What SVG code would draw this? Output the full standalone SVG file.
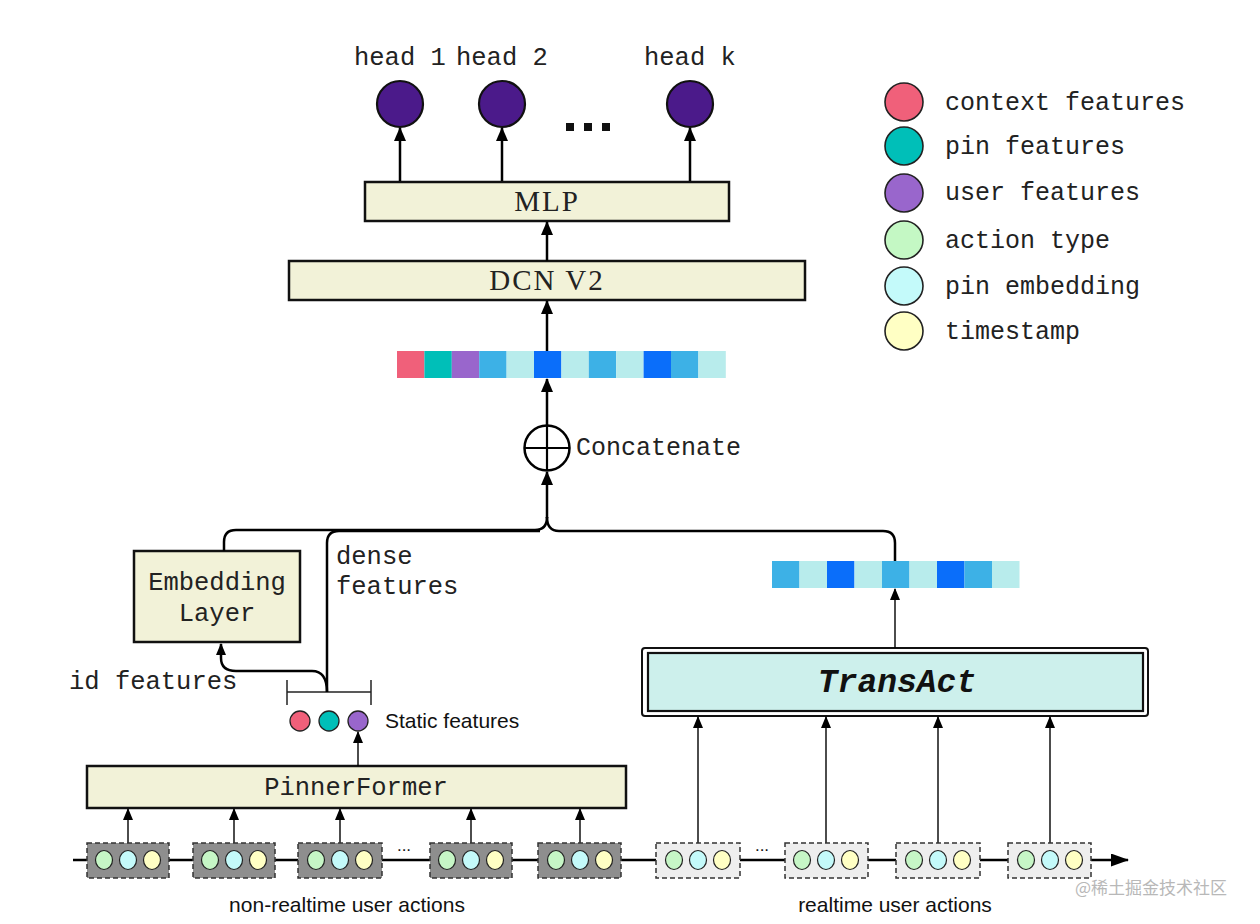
<svg xmlns="http://www.w3.org/2000/svg" width="1260" height="924" viewBox="0 0 1260 924">
<defs>
<marker id="ah" markerUnits="userSpaceOnUse" markerWidth="14" markerHeight="16" refX="13" refY="6" orient="auto"><path d="M0,0 L14,6 L0,12 Z" fill="#000"/></marker>
<marker id="ahs" markerUnits="userSpaceOnUse" markerWidth="12" markerHeight="12" refX="11" refY="5" orient="auto"><path d="M0,0 L12,5 L0,10 Z" fill="#000"/></marker>
<marker id="ahb" markerUnits="userSpaceOnUse" markerWidth="18" markerHeight="14" refX="17" refY="6.5" orient="auto"><path d="M0,0 L18,6.5 L0,13 Z" fill="#000"/></marker>
</defs>
<style>
.mono{font-family:"Liberation Mono","DejaVu Sans Mono",monospace;font-size:25.5px;fill:#222}
.lgt{font-family:"Liberation Mono","DejaVu Sans Mono",monospace;font-size:25px;fill:#222}
.serif{font-family:"Liberation Serif","DejaVu Serif",serif;font-size:29px;fill:#222;letter-spacing:2px}
.sans{font-family:"Liberation Sans",Arial,sans-serif;fill:#111}
.box{fill:#F2F2D8;stroke:#111;stroke-width:2.5}
.head{fill:#4B1A8A;stroke:#111;stroke-width:2.2}
.ln{fill:none;stroke:#000;stroke-width:2.5}
.thin{fill:none;stroke:#000;stroke-width:1.4}
.dk{fill:#8E8E8E;stroke:#333;stroke-width:1.5;stroke-dasharray:5 3}
.lt{fill:#EEEEEE;stroke:#333;stroke-width:1.5;stroke-dasharray:5 3}
.g{fill:#C6F6C6;stroke:#222;stroke-width:1.2}
.c{fill:#C4FAFA;stroke:#222;stroke-width:1.2}
.y{fill:#FFFFC4;stroke:#222;stroke-width:1.2}
.lg{stroke:#222;stroke-width:1.6}
</style>
<rect width="1260" height="924" fill="#fff"/>

<g id="heads">
<text class="mono" x="354" y="65">head 1</text>
<text class="mono" x="456" y="65">head 2</text>
<text class="mono" x="644" y="65">head k</text>
<circle class="head" cx="400" cy="104" r="23"/>
<circle class="head" cx="502" cy="104" r="23"/>
<circle class="head" cx="690" cy="104" r="23"/>
<rect x="566" y="123" width="8" height="8" fill="#111"/>
<rect x="584" y="123" width="8" height="8" fill="#111"/>
<rect x="602" y="123" width="8" height="8" fill="#111"/>
</g>

<g id="mlp"><rect class="box" x="365" y="182" width="364" height="39"/><text class="serif" x="547" y="211" text-anchor="middle">MLP</text></g>
<g id="dcn"><rect class="box" x="289" y="261" width="516" height="39"/><text class="serif" x="547" y="290" text-anchor="middle" letter-spacing="3">DCN V2</text></g>

<g id="bar1">
<rect x="397" y="351" width="27.4" height="27" fill="#F0607A"/>
<rect x="424.4" y="351" width="27.4" height="27" fill="#00BFB8"/>
<rect x="451.8" y="351" width="27.4" height="27" fill="#9966CC"/>
<rect x="479.2" y="351" width="27.4" height="27" fill="#3DB1E6"/>
<rect x="506.6" y="351" width="27.4" height="27" fill="#B8ECEC"/>
<rect x="534" y="351" width="27.4" height="27" fill="#0A6EFA"/>
<rect x="561.4" y="351" width="27.4" height="27" fill="#B8ECEC"/>
<rect x="588.8" y="351" width="27.4" height="27" fill="#3DB1E6"/>
<rect x="616.2" y="351" width="27.4" height="27" fill="#B8ECEC"/>
<rect x="643.6" y="351" width="27.4" height="27" fill="#0A6EFA"/>
<rect x="671" y="351" width="27.4" height="27" fill="#3DB1E6"/>
<rect x="698.4" y="351" width="27.4" height="27" fill="#B8ECEC"/>
</g>

<g id="concat">
<circle cx="547" cy="448" r="22.5" fill="#fff" stroke="#000" stroke-width="2.5"/>
<line x1="524.5" y1="448" x2="569.5" y2="448" stroke="#000" stroke-width="2.2"/>
<line x1="547" y1="425.5" x2="547" y2="470.5" stroke="#000" stroke-width="2.2"/>
<text class="lgt" x="576" y="455">Concatenate</text>
</g>

<g id="embedding">
<rect class="box" x="134" y="551" width="166" height="91"/>
<text class="mono" x="217" y="590" text-anchor="middle" font-size="26">Embedding</text>
<text class="mono" x="217" y="621" text-anchor="middle" font-size="26">Layer</text>
</g>
<text class="mono" x="336" y="564">dense</text>
<text class="mono" x="336" y="594">features</text>
<text class="mono" x="69" y="689">id features</text>

<g id="static">
<line x1="287" y1="692" x2="371" y2="692" stroke="#222" stroke-width="1.5"/>
<line x1="287" y1="680" x2="287" y2="705" stroke="#222" stroke-width="1.5"/>
<line x1="371" y1="680" x2="371" y2="705" stroke="#222" stroke-width="1.5"/>
<circle cx="300" cy="721" r="10" fill="#F0607A" stroke="#222" stroke-width="1.3"/>
<circle cx="329" cy="721" r="10" fill="#00BFB8" stroke="#222" stroke-width="1.3"/>
<circle cx="358" cy="721" r="10" fill="#9966CC" stroke="#222" stroke-width="1.3"/>
<text class="sans" x="385" y="728" font-size="21">Static features</text>
</g>

<g id="pinnerformer"><rect class="box" x="87" y="766" width="539" height="42"/><text class="mono" x="356" y="795" text-anchor="middle">PinnerFormer</text></g>

<g id="transact">
<rect x="642" y="648" width="506" height="68" rx="3" fill="#fff" stroke="#111" stroke-width="2"/>
<rect x="648" y="653" width="495" height="58" fill="#CDF0EC" stroke="#111" stroke-width="2.2"/>
<text x="897" y="692" text-anchor="middle" font-family="Liberation Mono,monospace" font-size="33" font-weight="bold" font-style="italic" fill="#111">TransAct</text>
</g>

<g id="bar2">
<rect x="772" y="561" width="27.5" height="27" fill="#3DB1E6"/>
<rect x="799.5" y="561" width="27.5" height="27" fill="#B8ECEC"/>
<rect x="827" y="561" width="27.5" height="27" fill="#0A6EFA"/>
<rect x="854.5" y="561" width="27.5" height="27" fill="#B8ECEC"/>
<rect x="882" y="561" width="27.5" height="27" fill="#3DB1E6"/>
<rect x="909.5" y="561" width="27.5" height="27" fill="#B8ECEC"/>
<rect x="937" y="561" width="27.5" height="27" fill="#0A6EFA"/>
<rect x="964.5" y="561" width="27.5" height="27" fill="#3DB1E6"/>
<rect x="992" y="561" width="27.5" height="27" fill="#B8ECEC"/>
</g>

<g id="connectors">
<line class="ln" x1="400" y1="181" x2="400" y2="128" marker-end="url(#ah)"/>
<line class="ln" x1="502" y1="181" x2="502" y2="128" marker-end="url(#ah)"/>
<line class="ln" x1="690" y1="181" x2="690" y2="128" marker-end="url(#ah)"/>
<line class="ln" x1="547" y1="261" x2="547" y2="222" marker-end="url(#ah)"/>
<line class="ln" x1="547" y1="351" x2="547" y2="301" marker-end="url(#ah)"/>
<line class="ln" x1="547" y1="425" x2="547" y2="379" marker-end="url(#ah)"/>
<line class="ln" x1="547" y1="518" x2="547" y2="472" marker-end="url(#ah)"/>
<path class="ln" d="M224 551 V542 Q224 530 236 530 H535 Q547 530 547 517"/>
<path class="ln" d="M327 692 V543 Q327 531 339 531 H540"/>
<path class="ln" d="M895 561 V543 Q895 531 883 531 H559 Q547 531 547 517"/>
<path class="ln" d="M327 692 Q327 671 312 671 H236 Q221 671 221 658 V644" stroke-width="2.2" marker-end="url(#ahs)"/>
<line class="thin" x1="358" y1="766" x2="358" y2="732" marker-end="url(#ahs)"/>
<line class="thin" x1="895" y1="648" x2="895" y2="589" marker-end="url(#ahs)"/>
<line class="thin" x1="128" y1="843" x2="128" y2="809" marker-end="url(#ahs)"/>
<line class="thin" x1="234" y1="843" x2="234" y2="809" marker-end="url(#ahs)"/>
<line class="thin" x1="340" y1="843" x2="340" y2="809" marker-end="url(#ahs)"/>
<line class="thin" x1="471" y1="843" x2="471" y2="809" marker-end="url(#ahs)"/>
<line class="thin" x1="580" y1="843" x2="580" y2="809" marker-end="url(#ahs)"/>
<line class="thin" x1="698" y1="843" x2="698" y2="717" marker-end="url(#ahs)"/>
<line class="thin" x1="826" y1="843" x2="826" y2="717" marker-end="url(#ahs)"/>
<line class="thin" x1="938" y1="843" x2="938" y2="717" marker-end="url(#ahs)"/>
<line class="thin" x1="1050" y1="843" x2="1050" y2="717" marker-end="url(#ahs)"/>
<line x1="73" y1="860" x2="1128" y2="860" stroke="#000" stroke-width="2.5" marker-end="url(#ahb)"/>
</g>

<g id="actions">
<g id="a1"><rect class="dk" x="87" y="843" width="82" height="35"/><ellipse class="g" cx="104" cy="860" rx="8.5" ry="9.5"/><ellipse class="c" cx="128" cy="860" rx="8.5" ry="9.5"/><ellipse class="y" cx="152" cy="860" rx="8.5" ry="9.5"/></g>
<g id="a2"><rect class="dk" x="193" y="843" width="82" height="35"/><ellipse class="g" cx="210" cy="860" rx="8.5" ry="9.5"/><ellipse class="c" cx="234" cy="860" rx="8.5" ry="9.5"/><ellipse class="y" cx="258" cy="860" rx="8.5" ry="9.5"/></g>
<g id="a3"><rect class="dk" x="298" y="843" width="84" height="35"/><ellipse class="g" cx="316" cy="860" rx="8.5" ry="9.5"/><ellipse class="c" cx="340" cy="860" rx="8.5" ry="9.5"/><ellipse class="y" cx="364" cy="860" rx="8.5" ry="9.5"/></g>
<text class="sans" x="404" y="851" font-size="17" text-anchor="middle">...</text>
<g id="a4"><rect class="dk" x="430" y="843" width="82" height="35"/><ellipse class="g" cx="447" cy="860" rx="8.5" ry="9.5"/><ellipse class="c" cx="471" cy="860" rx="8.5" ry="9.5"/><ellipse class="y" cx="495" cy="860" rx="8.5" ry="9.5"/></g>
<g id="a5"><rect class="dk" x="538" y="843" width="83" height="35"/><ellipse class="g" cx="556" cy="860" rx="8.5" ry="9.5"/><ellipse class="c" cx="580" cy="860" rx="8.5" ry="9.5"/><ellipse class="y" cx="604" cy="860" rx="8.5" ry="9.5"/></g>
<g id="a6"><rect class="lt" x="656" y="843" width="84" height="35"/><ellipse class="g" cx="674" cy="860" rx="8.5" ry="9.5"/><ellipse class="c" cx="698" cy="860" rx="8.5" ry="9.5"/><ellipse class="y" cx="722" cy="860" rx="8.5" ry="9.5"/></g>
<text class="sans" x="762" y="851" font-size="17" text-anchor="middle">...</text>
<g id="a7"><rect class="lt" x="785" y="843" width="83" height="35"/><ellipse class="g" cx="802" cy="860" rx="8.5" ry="9.5"/><ellipse class="c" cx="826" cy="860" rx="8.5" ry="9.5"/><ellipse class="y" cx="850" cy="860" rx="8.5" ry="9.5"/></g>
<g id="a8"><rect class="lt" x="896" y="843" width="84" height="35"/><ellipse class="g" cx="914" cy="860" rx="8.5" ry="9.5"/><ellipse class="c" cx="938" cy="860" rx="8.5" ry="9.5"/><ellipse class="y" cx="962" cy="860" rx="8.5" ry="9.5"/></g>
<g id="a9"><rect class="lt" x="1008" y="843" width="83" height="35"/><ellipse class="g" cx="1026" cy="860" rx="8.5" ry="9.5"/><ellipse class="c" cx="1050" cy="860" rx="8.5" ry="9.5"/><ellipse class="y" cx="1074" cy="860" rx="8.5" ry="9.5"/></g>
<text class="sans" x="347" y="912" font-size="21" text-anchor="middle">non-realtime user actions</text>
<text class="sans" x="895" y="912" font-size="21" text-anchor="middle">realtime user actions</text>
</g>

<g id="legend">
<circle class="lg" cx="904" cy="102" r="19" fill="#F0607A"/><text class="lgt" x="945" y="110">context features</text>
<circle class="lg" cx="904" cy="146" r="19" fill="#00BFB8"/><text class="lgt" x="945" y="154">pin features</text>
<circle class="lg" cx="904" cy="193" r="19" fill="#9966CC"/><text class="lgt" x="945" y="200">user features</text>
<circle class="lg" cx="904" cy="240" r="19" fill="#C4F8C4"/><text class="lgt" x="945" y="248">action type</text>
<circle class="lg" cx="904" cy="286" r="19" fill="#C4FAFA"/><text class="lgt" x="945" y="294">pin embedding</text>
<circle class="lg" cx="904" cy="331" r="19" fill="#FFFFC4"/><text class="lgt" x="945" y="339">timestamp</text>
</g>

<text x="1075" y="894" font-family="Noto Sans CJK SC,sans-serif" font-size="17" fill="#B8B8B8">@稀土掘金技术社区</text>
</svg>
